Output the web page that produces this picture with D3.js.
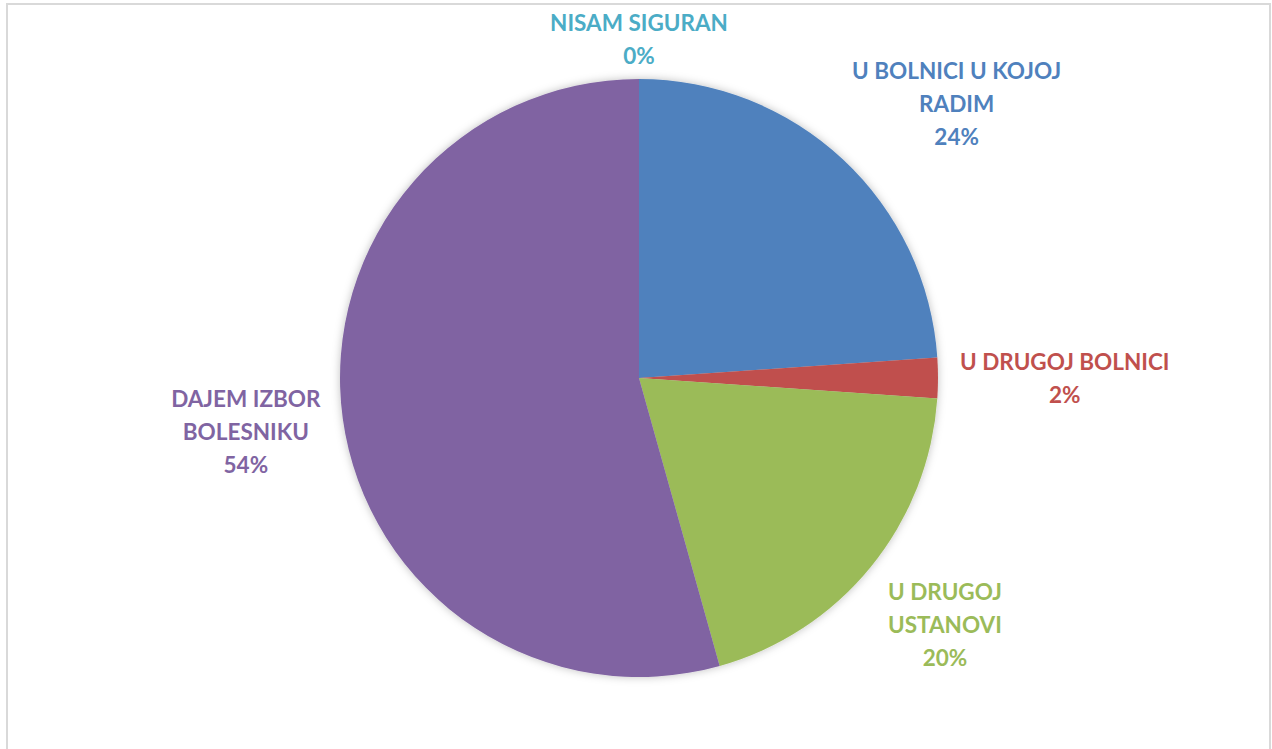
<!DOCTYPE html>
<html>
<head>
<meta charset="utf-8">
<script src="https://cdn.jsdelivr.net/npm/d3@7"></script>
<style>
  body { margin: 0; background: #fff; }
  text { font-family: Lato, "Open Sans", sans-serif; font-weight: bold; }
</style>
</head>
<body>
<div id="chart"></div>
<script>
// data
const categories = ["U BOLNICI U KOJOJ RADIM", "U DRUGOJ BOLNICI", "U DRUGOJ USTANOVI", "DAJEM IZBOR BOLESNIKU", "NISAM SIGURAN"];
const labelLines = [["U BOLNICI U KOJOJ", "RADIM"], ["U DRUGOJ BOLNICI"], ["U DRUGOJ", "USTANOVI"], ["DAJEM IZBOR", "BOLESNIKU"], ["NISAM SIGURAN"]];
const values = [11, 1, 9, 25, 0];
const colors = ["#4f81bd", "#c0504d", "#9bbb59", "#8064a2", "#4bacc6"];

let width = 1272, height = 749;
let cx = 639, cy = 378, radius = 299;
let gap = 22, lineH = 33;

const svg = d3.select("#chart").append("svg")
    .attr("width", width)
    .attr("height", height);

// frame
svg.append("rect")
    .attr("x", 7).attr("y", 4)
    .attr("width", 1263).attr("height", 780)
    .attr("fill", "none")
    .attr("stroke", "#d9d9d9")
    .attr("stroke-width", 2);

let defs = svg.append("defs");
let f = defs.append("filter").attr("id", "shadow")
    .attr("x", "-10%").attr("y", "-10%").attr("width", "120%").attr("height", "120%");
f.append("feDropShadow")
    .attr("dx", 0).attr("dy", 0)
    .attr("stdDeviation", 4)
    .attr("flood-color", "#000")
    .attr("flood-opacity", 0.25);

let total = d3.sum(values);
let pct = d3.format(".0%");
let color = d3.scaleOrdinal().domain(categories).range(colors);

let pie = d3.pie().sort(null).value(d => d.value);
let arc = d3.arc().innerRadius(0).outerRadius(radius);

let data = categories.map((c, i) => ({name: c, value: values[i], lines: labelLines[i]}));
let arcs = pie(data);

let g = svg.append("g").attr("transform", `translate(${cx},${cy})`);

g.append("g")
    .attr("filter", "url(#shadow)")
    .selectAll("path")
    .data(arcs.filter(d => d.data.value > 0))
    .join("path")
    .attr("d", arc)
    .attr("fill", d => color(d.data.name));

// labels, placed just outside the slice's middle angle
let clamp = v => Math.max(-1, Math.min(1, v));
let labels = g.append("g")
    .selectAll("text")
    .data(arcs)
    .join("text")
    .attr("text-anchor", "middle")
    .attr("font-size", 22.5)
    .attr("fill", d => color(d.data.name));

labels.each(function(d) {
    let t = d3.select(this);
    let lines = d.data.lines.concat([pct(d.data.value / total)]);
    lines.forEach((l, i) => {
        t.append("tspan").attr("x", 0).attr("y", i * lineH).text(l);
    });
    let bb = this.getBBox();
    let a = (d.startAngle + d.endAngle) / 2;
    let s = Math.sin(a), c = -Math.cos(a);
    let gg = gap - 12 * Math.max(0, -c);
    let px = (radius + gg) * s, py = (radius + gg) * c;
    let ox = clamp(1.5 * s) * bb.width / 2;
    let oy = clamp(1.5 * c) * bb.height / 2;
    let bcx = bb.x + bb.width / 2, bcy = bb.y + bb.height / 2;
    t.attr("transform", `translate(${px + ox - bcx},${py + oy - bcy})`);
});
</script>
</body>
</html>
